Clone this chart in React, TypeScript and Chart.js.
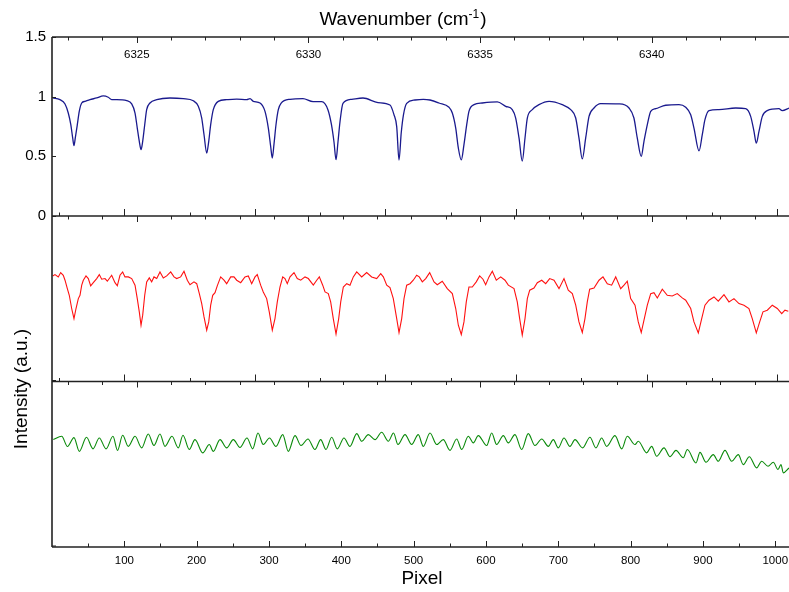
import React, { useEffect, useRef } from 'react';
import { Chart, registerables } from 'chart.js';

Chart.register(...registerables);

const FONT = '"Liberation Sans", Arial, Helvetica, sans-serif';

// ---- Top panel (blue) : Pixel vs relative intensity ----
const bluePixel = [
  1, 11, 18, 22.5, 26, 28.6, 30.4, 32.2, 35, 37.7,
  41.1, 45.6, 52.5, 61.8, 70.9, 77.8, 82.5, 89.5, 103.3, 110.2,
  114.8, 117.9, 120.7, 123.1, 125.4, 128.2, 130.9, 135.5, 144.8, 163.1,
  181.5, 195.4, 202.3, 207, 210.2, 213.9, 216.7, 219.4, 223, 229.9,
  241.5, 255.4, 269.2, 273.8, 278.3, 287.6, 294.5, 299.1, 302.4, 304.6,
  306.9, 309.7, 312.9, 316.6, 329.1, 347, 360.9, 372.9, 381.6, 386.4,
  389.9, 392.7, 395.4, 398.2, 402.3, 414.4, 430, 450.7, 467.3, 472.8,
  476.6, 479.8, 482.9, 486, 490.4, 501.9, 513.4, 522.6, 535.1, 548.9,
  553.5, 558.2, 561.8, 565.9, 569.6, 573.4, 576.5, 583.5, 594.9, 615.7,
  627.3, 636.4, 641.1, 645.7, 650.2, 654, 657.2, 664.1, 673.3, 687.2,
  705.5, 717.2, 724.1, 728.6, 733.2, 737.9, 742.5, 749.4, 758.6, 783.9,
  797.8, 804.6, 809.2, 814.7, 818.5, 823.1, 827.8, 834.7, 848.5, 866.9,
  876.2, 883.1, 887.6, 894.6, 899.1, 902.8, 908.4, 922.2, 945.3, 959.1,
  966, 970.6, 973.8, 977.5, 982.1, 988.9, 1005.1, 1009.7, 1019,
];
const blueValue = [
  0.989, 0.975, 0.939, 0.863, 0.765, 0.654, 0.59, 0.654, 0.765, 0.877,
  0.947, 0.961, 0.975, 0.989, 1.006, 0.995, 0.975, 0.975, 0.966, 0.939,
  0.863, 0.737, 0.626, 0.556, 0.626, 0.765, 0.891, 0.947, 0.975, 0.989,
  0.983, 0.966, 0.919, 0.821, 0.681, 0.528, 0.626, 0.765, 0.891, 0.961,
  0.975, 0.98, 0.975, 0.983, 0.961, 0.947, 0.877, 0.737, 0.58, 0.486,
  0.6, 0.765, 0.891, 0.944, 0.978, 0.983, 0.958, 0.958, 0.889, 0.765,
  0.62, 0.472, 0.62, 0.79, 0.944, 0.978, 0.989, 0.95, 0.93, 0.85,
  0.749, 0.469, 0.7, 0.85, 0.944, 0.972, 0.978, 0.972, 0.947, 0.911,
  0.863, 0.737, 0.57, 0.47, 0.598, 0.765, 0.877, 0.933, 0.947, 0.956,
  0.919, 0.891, 0.821, 0.654, 0.46, 0.654, 0.821, 0.891, 0.933, 0.961,
  0.933, 0.891, 0.821, 0.654, 0.478, 0.654, 0.835, 0.905, 0.941, 0.939,
  0.905, 0.821, 0.654, 0.5, 0.626, 0.765, 0.877, 0.899, 0.928, 0.933,
  0.911, 0.849, 0.737, 0.545, 0.681, 0.807, 0.883, 0.891, 0.905, 0.899,
  0.835, 0.709, 0.61, 0.709, 0.835, 0.883, 0.899, 0.883, 0.905,
];

// ---- Middle panel (red) ----
const redPixel = [
  1, 4.1, 8.7, 12, 15.6, 18, 21.2, 23.9, 27.2, 30.4,
  33.2, 36.4, 38.7, 41.1, 43.3, 47, 50.2, 53.5, 57.1, 61.8,
  65.4, 68.7, 73.3, 76.5, 82.5, 87.1, 90.3, 94, 97.7, 100.9,
  105.5, 110.2, 114.8, 117.9, 120.7, 123.1, 125.4, 128.2, 130.9, 134.5,
  137.8, 141, 144.8, 149.3, 153.9, 158.6, 164.1, 168.7, 172.4, 177.9,
  182.5, 187.1, 190.8, 196.3, 200.1, 203.7, 207, 210.2, 213.9, 216.7,
  219.4, 222.2, 225.4, 228.5, 233.2, 237.8, 241.5, 247.1, 251.6, 255.4,
  260.9, 266.8, 271.4, 276.1, 280.7, 283.8, 288.5, 292.1, 296.8, 300.4,
  304.6, 308.3, 311.5, 315.2, 319, 322.1, 325.3, 329.1, 334.6, 339.1,
  343.9, 349.8, 354.4, 361.3, 366, 369.6, 374.3, 377.5, 382, 385.3,
  388.9, 392.7, 396.4, 399.2, 402.8, 407.5, 412, 416.6, 421.3, 428.2,
  435.1, 442, 448.9, 454.5, 458.1, 462.8, 467.3, 471.9, 476.6, 479.8,
  483.5, 486.7, 490.4, 495, 499.5, 504.2, 507.8, 512, 516.7, 522.2,
  528.2, 532.7, 539.6, 546.5, 553.5, 558.2, 561.8, 565.9, 569.6, 572.8,
  576.5, 581.1, 586.6, 591.3, 595.9, 599.6, 604.2, 608.8, 614.3, 620.4,
  626.3, 630.9, 638.8, 643.3, 646.6, 650.2, 654, 657.2, 660.5, 666.4,
  671, 677.1, 682.6, 688.1, 694.1, 701, 707.9, 713.8, 719.4, 724.1,
  728.6, 733.2, 736.9, 740.1, 743.4, 749.4, 756.3, 761.8, 767.8, 773.8,
  779.4, 786.3, 790.9, 795.4, 800.1, 806.1, 810.6, 814.7, 818.5, 823.1,
  827.8, 832.3, 836.9, 843.8, 850.7, 857.6, 864.5, 871.4, 876.2, 883.1,
  887.6, 893.6, 898.3, 902.8, 908.4, 915.3, 921.2, 929.1, 936, 942.9,
  949.8, 956.7, 963.6, 968.2, 973.8, 978.5, 983, 989, 995.9, 1002.8,
  1008.9, 1013.4, 1018,
];
const redValue = [
  0.638, 0.646, 0.632, 0.658, 0.642, 0.612, 0.561, 0.521, 0.441, 0.38,
  0.441, 0.501, 0.521, 0.582, 0.612, 0.638, 0.622, 0.578, 0.597, 0.622,
  0.646, 0.618, 0.622, 0.606, 0.642, 0.597, 0.578, 0.642, 0.662, 0.632,
  0.632, 0.622, 0.582, 0.501, 0.421, 0.34, 0.401, 0.521, 0.602, 0.626,
  0.602, 0.632, 0.622, 0.662, 0.626, 0.638, 0.662, 0.632, 0.622, 0.632,
  0.666, 0.612, 0.585, 0.602, 0.591, 0.531, 0.471, 0.39, 0.31, 0.36,
  0.461, 0.521, 0.537, 0.578, 0.632, 0.612, 0.591, 0.632, 0.632, 0.612,
  0.597, 0.632, 0.638, 0.591, 0.632, 0.646, 0.582, 0.541, 0.501, 0.421,
  0.31, 0.38, 0.481, 0.571, 0.632, 0.622, 0.591, 0.632, 0.658, 0.622,
  0.612, 0.632, 0.622, 0.582, 0.612, 0.632, 0.582, 0.541, 0.531, 0.481,
  0.38, 0.286, 0.38, 0.481, 0.571, 0.591, 0.582, 0.632, 0.662, 0.632,
  0.658, 0.632, 0.622, 0.652, 0.632, 0.582, 0.567, 0.501, 0.38, 0.296,
  0.38, 0.501, 0.582, 0.591, 0.612, 0.642, 0.632, 0.602, 0.622, 0.658,
  0.602, 0.585, 0.606, 0.561, 0.531, 0.441, 0.34, 0.284, 0.36, 0.481,
  0.571, 0.571, 0.602, 0.638, 0.618, 0.585, 0.632, 0.666, 0.612, 0.632,
  0.612, 0.582, 0.561, 0.481, 0.38, 0.28, 0.38, 0.501, 0.552, 0.565,
  0.597, 0.612, 0.591, 0.622, 0.612, 0.561, 0.622, 0.552, 0.531, 0.461,
  0.36, 0.296, 0.38, 0.481, 0.558, 0.565, 0.612, 0.632, 0.591, 0.582,
  0.632, 0.561, 0.582, 0.606, 0.501, 0.461, 0.36, 0.296, 0.371, 0.461,
  0.531, 0.537, 0.505, 0.558, 0.521, 0.517, 0.531, 0.505, 0.491, 0.441,
  0.36, 0.294, 0.38, 0.461, 0.491, 0.511, 0.485, 0.525, 0.481, 0.501,
  0.471, 0.461, 0.441, 0.38, 0.294, 0.36, 0.421, 0.431, 0.461, 0.441,
  0.41, 0.431, 0.425,
];

// ---- Bottom panel (green) ----
const greenPixel = [
  1.8, 13.4, 21.4, 30.4, 37.7, 47.7, 56.7, 65.4, 74.7, 84.3,
  90.6, 97.7, 105.5, 114.8, 124, 133.1, 141, 149.3, 156.2, 165.9,
  174.6, 181.1, 189.8, 197.7, 208.4, 217.5, 223, 232.3, 241.5, 250.7,
  259.9, 269.6, 277.5, 284.8, 292.1, 300.7, 309.7, 319, 326.7, 336,
  344.3, 353.9, 363.6, 371.5, 378.8, 386.7, 394.5, 403.7, 412, 421.3,
  428.2, 437.3, 446.6, 455.8, 465, 472.2, 478.4, 488.1, 497.3, 506.4,
  513.4, 522.6, 531.9, 541, 550.3, 559.5, 566.5, 575.6, 582.5, 589.4,
  601, 607.9, 614.8, 624, 630.9, 640.1, 649.4, 658.5, 667.8, 677.1,
  686.2, 693.1, 700, 707.9, 716.2, 723.1, 733.7, 743.8, 752.1, 760,
  766.9, 778.4, 787.7, 795.4, 806.1, 810.6, 822.2, 829.1, 836.1, 846.2,
  854.5, 862.7, 872.8, 878.4, 890.4, 895.9, 904.2, 914.3, 921.2, 930.5,
  939.7, 948.9, 955.8, 964.1, 974.3, 981.2, 990, 997.3, 1003.8, 1007.9,
  1011.1, 1019,
];
const greenValue = [
  0.649, 0.669, 0.607, 0.661, 0.578, 0.663, 0.593, 0.659, 0.593, 0.669,
  0.584, 0.675, 0.608, 0.669, 0.599, 0.683, 0.613, 0.683, 0.608, 0.669,
  0.599, 0.675, 0.589, 0.649, 0.569, 0.619, 0.578, 0.649, 0.599, 0.649,
  0.602, 0.659, 0.593, 0.689, 0.619, 0.659, 0.608, 0.679, 0.578, 0.673,
  0.613, 0.653, 0.589, 0.649, 0.589, 0.663, 0.593, 0.659, 0.608, 0.685,
  0.639, 0.679, 0.649, 0.693, 0.639, 0.689, 0.619, 0.679, 0.619, 0.679,
  0.608, 0.689, 0.619, 0.649, 0.584, 0.653, 0.589, 0.669, 0.629, 0.673,
  0.613, 0.689, 0.619, 0.673, 0.629, 0.679, 0.589, 0.685, 0.613, 0.653,
  0.608, 0.649, 0.599, 0.659, 0.608, 0.649, 0.599, 0.663, 0.599, 0.659,
  0.608, 0.673, 0.593, 0.669, 0.619, 0.639, 0.569, 0.608, 0.548, 0.599,
  0.545, 0.584, 0.539, 0.589, 0.508, 0.572, 0.512, 0.558, 0.518, 0.584,
  0.518, 0.558, 0.498, 0.545, 0.478, 0.518, 0.488, 0.512, 0.468, 0.498,
  0.448, 0.478,
];

// ---- Axes / labels ----
const pixelRange = [0, 1019];
const wavenumberRange = [6322.53, 6344.0];
const wavenumberLabels = [6325, 6330, 6335, 6340];
const wavenumberTicks = [6323, 6324, 6325, 6326, 6327, 6328, 6329, 6330, 6331, 6332, 6333, 6334, 6335, 6336, 6337, 6338, 6339, 6340, 6341, 6342, 6343];
const pixelMinorTicks = [50, 100, 150, 200, 250, 300, 350, 400, 450, 500, 550, 600, 650, 700, 750, 800, 850, 900, 950, 1000];
const layerTicks = [9.75, 100, 190.25, 280.5, 370.75, 461, 551.25, 641.5, 731.75, 822, 912.25, 1002.5];
const topYTicks = [0, 0.5, 1, 1.5];

const xy = (xs: number[], ys: number[]) => xs.map((x, i) => ({ x, y: ys[i] }));

const decorPlugin = {
  id: 'decor',
  afterDraw(chart: any) {
    const { ctx, chartArea } = chart;
    const sx = chart.scales.x;
    const sw = chart.scales.x2;
    const y1 = chart.scales.y1;
    const y2 = chart.scales.y2;
    const y3 = chart.scales.y3;
    const L = chartArea.left;
    const R = chartArea.right;
    const top = y1.top;
    const sep1 = y1.bottom;
    const sep2 = y2.bottom;
    const bottom = y3.bottom;
    ctx.save();
    ctx.strokeStyle = '#222';
    ctx.lineWidth = 1;
    const line = (x0: number, yA: number, x1: number, yB: number) => {
      ctx.beginPath();
      ctx.moveTo(x0, yA);
      ctx.lineTo(x1, yB);
      ctx.stroke();
    };
    for (const yb of [top, sep1, sep2]) {
      for (const w of wavenumberTicks) {
        const px = Math.round(sw.getPixelForValue(w)) + 0.5;
        const len = w % 5 === 0 ? 6 : 3.5;
        line(px, yb, px, yb + len);
      }
    }
    for (const yb of [sep1, sep2]) {
      layerTicks.forEach((p, i) => {
        const px = Math.round(sx.getPixelForValue(p)) + 0.5;
        const len = i % 2 === 1 ? 7 : 3.5;
        line(px, yb, px, yb - len);
      });
    }
    for (const p of pixelMinorTicks) {
      const px = Math.round(sx.getPixelForValue(p)) + 0.5;
      const len = p % 100 === 0 ? 6 : 3.5;
      line(px, bottom, px, bottom - len);
    }
    for (const v of topYTicks) {
      const py = Math.round(y1.getPixelForValue(v)) + 0.5;
      line(L, py, L + 4, py);
    }
    line(L, sep2 - 1, L + 4, sep2 - 1);
    line(L, bottom - 1, L + 4, bottom - 1);
    ctx.lineWidth = 1.6;
    ctx.strokeStyle = '#222';
    for (const yb of [top, sep1, sep2, bottom]) line(L, yb, R, yb);
    line(L, top, L, bottom);

    ctx.fillStyle = '#000';
    ctx.font = `11.5px ${FONT}`;
    ctx.textAlign = 'center';
    ctx.textBaseline = 'middle';
    for (const w of wavenumberLabels) {
      ctx.fillText(String(w), sw.getPixelForValue(w), top + 18);
    }

    const big = `19px ${FONT}`;
    const small = `12px ${FONT}`;
    const t1 = 'Wavenumber (cm';
    const t2 = '-1';
    const t3 = ')';
    ctx.font = big;
    const w1 = ctx.measureText(t1).width;
    const w3 = ctx.measureText(t3).width;
    ctx.font = small;
    const w2 = ctx.measureText(t2).width;
    const total = w1 + w2 + w3 + 1;
    let cx = 403 - total / 2;
    const base = 25;
    ctx.textAlign = 'left';
    ctx.textBaseline = 'alphabetic';
    ctx.font = big;
    ctx.fillText(t1, cx, base);
    cx += w1;
    ctx.font = small;
    ctx.fillText(t2, cx, base - 7);
    cx += w2 + 1;
    ctx.font = big;
    ctx.fillText(t3, cx, base);

    ctx.textAlign = 'center';
    ctx.fillText('Pixel', 422, 584);

    ctx.save();
    ctx.translate(27, 389);
    ctx.rotate(-Math.PI / 2);
    ctx.textAlign = 'center';
    ctx.textBaseline = 'alphabetic';
    ctx.fillText('Intensity (a.u.)', 0, 0);
    ctx.restore();

    ctx.restore();
  },
};

export default function App() {
  const ref = useRef<HTMLCanvasElement>(null);
  useEffect(() => {
    const canvas = ref.current;
    if (!canvas) return;
    const hiddenY = (weight: number, stackWeight: number) => ({
      type: 'linear' as const,
      position: 'left' as const,
      stack: 'panels',
      stackWeight,
      weight,
      min: 0,
      max: 1,
      grid: { display: false, drawTicks: false },
      border: { display: false },
      ticks: { display: false },
      afterFit: (s: any) => {
        s.width = 52;
      },
    });
    const chart = new Chart(canvas, {
      type: 'line',
      data: {
        datasets: [
          {
            data: xy(bluePixel, blueValue),
            xAxisID: 'x',
            yAxisID: 'y1',
            borderColor: '#1a1a8e',
            borderWidth: 1.3,
            pointRadius: 0,
            cubicInterpolationMode: 'monotone',
          },
          {
            data: xy(redPixel, redValue),
            xAxisID: 'x',
            yAxisID: 'y2',
            borderColor: '#ff1010',
            borderWidth: 1.1,
            pointRadius: 0,
            tension: 0,
          },
          {
            data: xy(greenPixel, greenValue),
            xAxisID: 'x',
            yAxisID: 'y3',
            borderColor: '#0a8a0a',
            borderWidth: 1.1,
            pointRadius: 0,
            cubicInterpolationMode: 'monotone',
          },
        ],
      },
      options: {
        responsive: false,
        animation: false,
        devicePixelRatio: 1,
        layout: { padding: { top: 37, left: 0, right: 0, bottom: 0 } },
        plugins: { legend: { display: false }, tooltip: { enabled: false } },
        scales: {
          x: {
            type: 'linear',
            position: 'bottom',
            min: pixelRange[0],
            max: pixelRange[1],
            grid: { display: false, drawTicks: false },
            border: { display: false },
            ticks: {
              stepSize: 100,
              includeBounds: false,
              autoSkip: false,
              maxRotation: 0,
              padding: 7,
              color: '#000',
              font: { family: FONT, size: 11.5 },
              callback: (v: any) => (v > 0 && v % 100 === 0 ? String(v) : ''),
            },
            afterFit: (s: any) => {
              s.height = 45;
              s.paddingLeft = 0;
              s.paddingRight = 0;
            },
          },
          x2: {
            type: 'linear',
            position: 'top',
            display: false,
            min: wavenumberRange[0],
            max: wavenumberRange[1],
          },
          y3: hiddenY(1, 165.5),
          y2: hiddenY(2, 165.5),
          y1: {
            type: 'linear',
            position: 'left',
            stack: 'panels',
            stackWeight: 179,
            weight: 3,
            min: 0,
            max: 1.5,
            grid: { display: false, drawTicks: false },
            border: { display: false },
            ticks: {
              stepSize: 0.5,
              padding: 6,
              color: '#000',
              font: { family: FONT, size: 15 },
              callback: (v: any) => String(v),
            },
            afterFit: (s: any) => {
              s.width = 52;
            },
          },
        } as any,
      },
      plugins: [decorPlugin],
    } as any);
    return () => chart.destroy();
  }, []);
  return (
    <div style={{ position: 'fixed', left: 0, top: 0, width: 789, height: 592, background: '#fff' }}>
      <canvas ref={ref} width={789} height={592} style={{ display: 'block', width: 789, height: 592 }} />
    </div>
  );
}
